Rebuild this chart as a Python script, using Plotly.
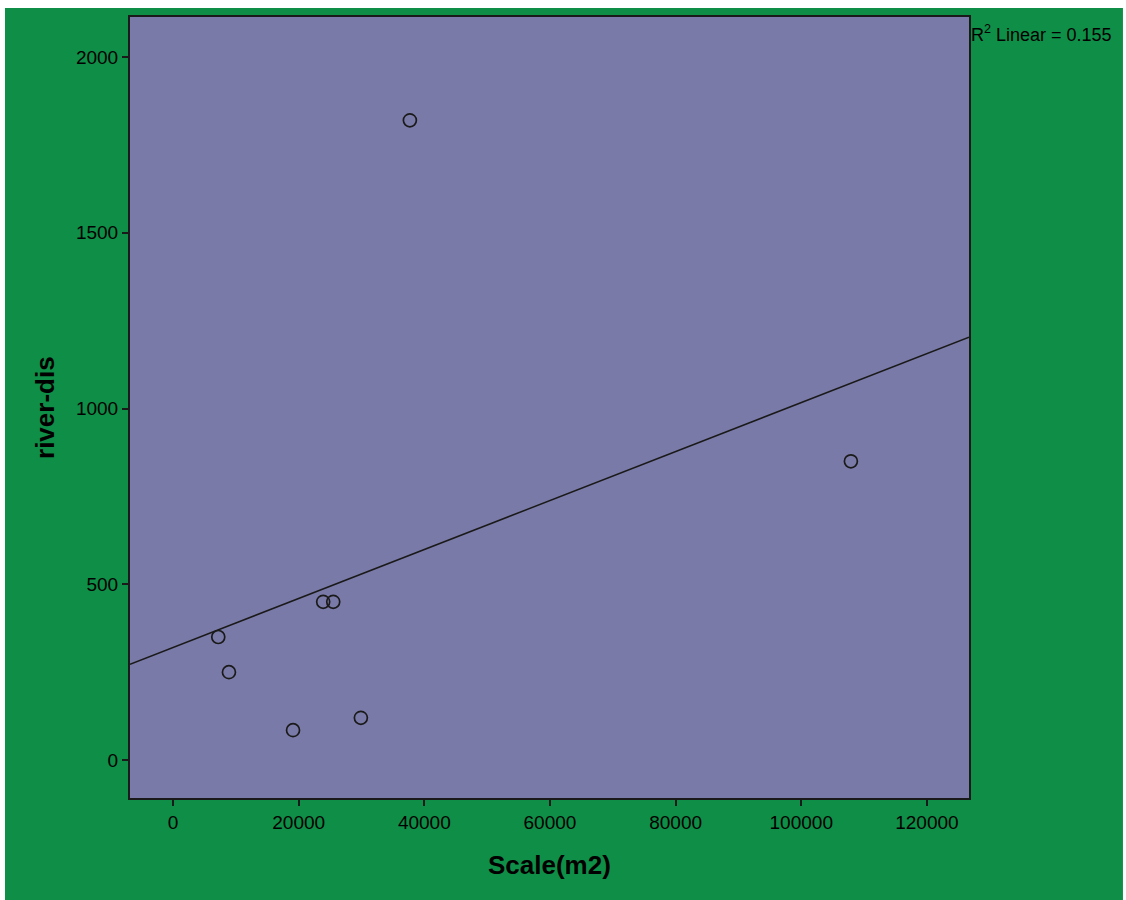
import numpy as np
import plotly.graph_objects as go

# Data
scale_m2 = [7200, 8900, 19100, 23900, 25500, 29900, 37700, 107900]
river_dis = [350, 250, 85, 450, 450, 120, 1820, 850]
x_ticks = [0, 20000, 40000, 60000, 80000, 100000, 120000]
y_ticks = [0, 500, 1000, 1500, 2000]
r2_label = "R<sup>2</sup> Linear = 0.155"

x_range = [-6850, 126700]
y_range = [-108, 2114]

# linear fit
slope, intercept = np.polyfit(scale_m2, river_dis, 1)
fit_x = np.array(x_range)
fit_y = slope * fit_x + intercept

GREEN = "#0f8e47"
PURPLE = "#797aa8"
INK = "#1a1a1a"
FONT = "Liberation Sans, Arial, sans-serif"

fig = go.Figure()
fig.add_trace(go.Scatter(x=fit_x, y=fit_y, mode="lines",
                         line=dict(color=INK, width=1.5), showlegend=False,
                         hoverinfo="skip"))
fig.add_trace(go.Scatter(x=scale_m2, y=river_dis, mode="markers",
                         marker=dict(symbol="circle-open", size=13,
                                     color=INK, line=dict(width=1.7, color=INK)),
                         showlegend=False))

fig.update_layout(
    width=1126, height=900,
    margin=dict(l=130, r=157, t=17, b=102),
    paper_bgcolor="white",
    plot_bgcolor=PURPLE,
    font=dict(family=FONT, color="black"),
    shapes=[
        dict(type="rect", xref="paper", yref="paper",
             x0=-0.149, x1=1.1835, y0=-0.14, y1=1.0115,
             fillcolor=GREEN, line=dict(width=0), layer="below"),
        dict(type="rect", xref="x domain", yref="y domain",
             x0=0, x1=1, y0=0, y1=1,
             fillcolor=PURPLE, line=dict(width=0), layer="below"),
    ],
    annotations=[
        dict(text="<b>Scale(m2)</b>", xref="paper", yref="paper", x=0.5, y=-0.0858,
             xanchor="center", yanchor="middle", showarrow=False,
             font=dict(size=26, family=FONT, color="black")),
        dict(text="<b>river-dis</b>", xref="paper", yref="paper", x=-0.1013, y=0.4994,
             xanchor="center", yanchor="middle", showarrow=False, textangle=-90,
             font=dict(size=26, family=FONT, color="black")),
        dict(text=r2_label, xref="paper", yref="paper", x=1.0005, y=0.9795,
             xanchor="left", yanchor="middle", showarrow=False,
             font=dict(size=18, family=FONT, color="black")),
    ],
)
fig.update_xaxes(range=x_range, tickvals=x_ticks, tickformat="d",
                 showgrid=False, zeroline=False, showline=True, mirror=True,
                 linecolor=INK, linewidth=2, ticks="outside", ticklen=6,
                 tickcolor=INK, tickwidth=1.5,
                 tickfont=dict(size=19, family=FONT, color="black"))
fig.update_yaxes(range=y_range, tickvals=y_ticks, tickformat="d",
                 showgrid=False, zeroline=False, showline=True, mirror=True,
                 linecolor=INK, linewidth=2, ticks="outside", ticklen=6,
                 tickcolor=INK, tickwidth=1.5,
                 tickfont=dict(size=19, family=FONT, color="black"))

fig.write_html("out.html", config={"displayModeBar": False},
               post_script="document.body.style.margin='0';document.body.style.padding='0';")
